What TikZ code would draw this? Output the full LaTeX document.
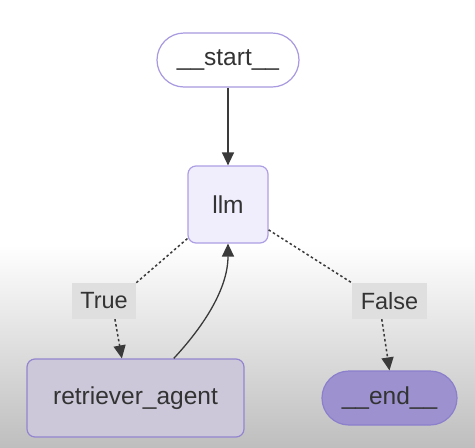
\documentclass[tikz,border=0pt]{standalone}
\usepackage{fontspec}
\setmainfont{Liberation Sans}
\usetikzlibrary{arrows.meta}
\definecolor{textogris}{HTML}{333333}
\definecolor{lineagris}{HTML}{3A3A3A}
\definecolor{fondogris}{HTML}{BEBEBE}
\definecolor{bordestart}{HTML}{A899E0}
\definecolor{rellenollm}{HTML}{F0EDFD}
\definecolor{bordellm}{HTML}{AE9FE4}
\definecolor{rellenoret}{HTML}{CCC8DA}
\definecolor{bordret}{HTML}{9485CF}
\definecolor{rellenoend}{HTML}{9D91D0}
\definecolor{bordeend}{HTML}{8C7FCC}
\definecolor{etiqueta}{HTML}{DFDFDF}

\begin{document}
\begin{tikzpicture}[x=1pt, y=-1pt,
    nodo/.style={draw=#1, line width=1.2pt, text=textogris, inner sep=0pt,
        font=\fontsize{24.5}{29}\selectfont},
    etiq/.style={fill=etiqueta, text=textogris, inner sep=0pt,
        font=\fontsize{23.5}{28}\selectfont},
    flujo/.style={draw=lineagris, line width=1.3pt},
    cond/.style={flujo, line width=1.5pt, dash pattern=on 2.5pt off 2.5pt},
    punta/.style={-{Triangle[width=12pt, length=13pt]}}]
    \useasboundingbox (0,0) rectangle (475,448);

    % Fondo: blanco arriba, degradado gris abajo
    \fill[white] (0,0) rectangle (475,448);
    \shade[top color=white, bottom color=fondogris] (0,245) rectangle (475,448);

    % Nodos
    \node[nodo=bordestart, fill=white, rounded corners=27pt,
        minimum width=142pt, minimum height=54pt] (start) at (228,60) {\_\_start\_\_};
    \node[nodo=bordellm, fill=rellenollm, rounded corners=8pt,
        minimum width=80pt, minimum height=77pt] (llm) at (228,204.5) {llm};
    \node[nodo=bordret, fill=rellenoret, rounded corners=8pt,
        minimum width=217pt, minimum height=78pt] (retriever) at (135.5,398) {retriever\_agent};
    \node[nodo=bordeend, fill=rellenoend, rounded corners=27pt,
        minimum width=135pt, minimum height=54pt] (end) at (389.5,398) {\_\_end\_\_};

    % Etiquetas de las condiciones
    \node[etiq, minimum width=64pt, minimum height=36pt] (verdad) at (104,301) {True};
    \node[etiq, minimum width=75pt, minimum height=36pt] (falso) at (389.5,301) {False};

    % Aristas
    \draw[flujo, punta] (start) -- (llm);
    \draw[cond] (llm.220) -- (verdad.north east);
    \draw[cond, punta] (verdad.-59) -- (retriever.109);
    \draw[cond] (llm.-32) -- (falso.north west);
    \draw[cond, punta] (falso.-113) -- (end.north);
    \draw[flujo, punta] (retriever.46) .. controls +(27,-29) and +(0,47) .. (llm.south);
\end{tikzpicture}
\end{document}
